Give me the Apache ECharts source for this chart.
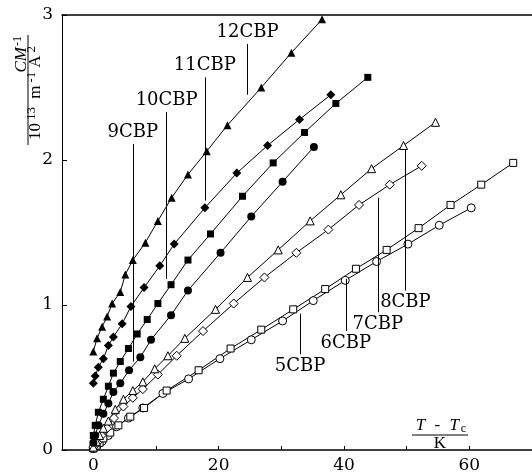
<!DOCTYPE html>
<html>
<head>
<meta charset="utf-8">
<script src="https://cdn.jsdelivr.net/npm/echarts@6/dist/echarts.min.js"></script>
<style>html,body{margin:0;padding:0;background:#fff}#c{width:532px;height:474px}</style>
</head>
<body>
<div id="c"></div>
<script>
// ---- data: [T - Tc (K), C/M^-1 (10^13 m^-1 A^2)] ----
const s5CBP = [[0,0.01],[0.6,0.03],[1.4,0.06],[2.4,0.10],[3.7,0.16],[5.6,0.22],[7.9,0.29],[11.1,0.39],[15.2,0.49],[20.2,0.63],[25.2,0.76],[30.2,0.89],[35.1,1.03],[40.2,1.17],[45.2,1.30],[50.2,1.42],[55.2,1.55],[60.3,1.67]];
const s6CBP = [[0,0.01],[0.5,0.03],[1.0,0.05],[1.6,0.08],[2.7,0.12],[4.0,0.17],[5.9,0.23],[8.1,0.29],[11.7,0.41],[16.8,0.55],[21.9,0.70],[26.8,0.83],[31.9,0.97],[37.0,1.11],[41.9,1.25],[46.8,1.38],[51.9,1.53],[57.0,1.69],[61.9,1.83],[67.0,1.98]];
const s7CBP = [[0,0.02],[0.6,0.05],[1.3,0.10],[2.2,0.15],[3.3,0.22],[4.8,0.30],[6.3,0.36],[7.9,0.42],[10.3,0.52],[13.3,0.65],[17.5,0.82],[22.4,1.01],[27.3,1.19],[32.4,1.36],[37.5,1.52],[42.4,1.69],[47.3,1.83],[52.4,1.96]];
const s8CBP = [[0,0.02],[0.5,0.06],[1.0,0.10],[1.6,0.15],[2.4,0.20],[3.5,0.28],[4.8,0.35],[6.3,0.41],[7.9,0.47],[9.8,0.56],[11.9,0.65],[14.6,0.77],[19.5,0.97],[24.6,1.19],[29.5,1.38],[34.6,1.58],[39.5,1.76],[44.4,1.94],[49.5,2.10],[54.6,2.26]];
const s9CBP = [[0,0.05],[0.3,0.10],[0.8,0.17],[1.6,0.25],[2.4,0.32],[3.2,0.40],[4.3,0.46],[5.7,0.55],[7.5,0.64],[9.2,0.76],[12.4,0.93],[15.1,1.10],[20.3,1.36],[25.2,1.61],[30.2,1.85],[35.2,2.09]];
const s10CBP = [[0,0.10],[0.3,0.17],[0.8,0.26],[1.6,0.35],[2.4,0.44],[3.2,0.53],[4.3,0.61],[5.6,0.70],[7.0,0.80],[8.6,0.90],[10.3,1.01],[12.4,1.14],[15.1,1.31],[18.7,1.49],[23.8,1.75],[28.7,1.98],[33.7,2.19],[38.7,2.39],[43.8,2.57]];
const s11CBP = [[0,0.46],[0.3,0.51],[0.8,0.57],[1.6,0.63],[2.4,0.72],[3.2,0.78],[4.6,0.87],[6.0,0.99],[8.1,1.12],[10.6,1.27],[12.9,1.42],[17.8,1.67],[22.9,1.91],[27.8,2.10],[32.9,2.28],[37.9,2.45]];
const s12CBP = [[0,0.68],[0.6,0.77],[1.4,0.85],[2.2,0.92],[3.0,1.01],[4.3,1.09],[5.1,1.21],[6.3,1.31],[8.3,1.43],[10.3,1.58],[12.5,1.74],[15.1,1.90],[18.1,2.06],[21.4,2.24],[26.8,2.50],[31.6,2.74],[36.5,2.97]];

// label leader lines: [x, yStart(label end), yEnd]
const lead5CBP = [33.0, 0.66, 0.94];
const lead6CBP = [40.3, 0.82, 1.18];
const lead7CBP = [45.4, 0.95, 1.74];
const lead8CBP = [49.8, 1.10, 2.07];
const lead9CBP = [6.3, 2.11, 0.61];
const lead10CBP = [11.7, 2.33, 1.18];
const lead11CBP = [17.8, 2.57, 1.72];
const lead12CBP = [24.6, 2.80, 2.45];

const xTickValues = [0, 10, 20, 30, 40, 50, 60];
const xLabelValues = [0, 20, 40, 60];

const FONT = 'DejaVu Serif';

function mk(name, data, symbol, size, filled, lead) {
  return {
    name: name, type: 'line', data: data,
    symbol: symbol, symbolSize: size, showSymbol: true,
    lineStyle: {color: '#000', width: 1},
    itemStyle: filled ? {color: '#000', borderColor: '#000', borderWidth: 0}
                      : {color: '#fff', borderColor: '#000', borderWidth: 1},
    emphasis: {disabled: true},
    markLine: {
      silent: true, symbol: ['none', 'none'], animation: false,
      lineStyle: {color: '#000', width: 1, type: 'solid'},
      label: {show: true, position: 'start', distance: 3, formatter: '{b}',
              color: '#000', fontFamily: FONT, fontSize: 18},
      data: [[{coord: [lead[0], lead[1]], name: name}, {coord: [lead[0], lead[2]]}]]
    }
  };
}

const chart = echarts.init(document.getElementById('c'), null, {renderer: 'canvas'});
chart.setOption({
  animation: false,
  backgroundColor: '#fff',
  grid: {left: 62, right: 0, top: 15, bottom: 19, show: false},
  xAxis: [{
    type: 'value', min: -5, max: 70,
    axisLine: {show: true, onZero: false, lineStyle: {color: '#000', width: 1.5}},
    axisTick: {show: true, inside: true, length: 4, customValues: xTickValues, lineStyle: {color: '#000'}},
    axisLabel: {show: true, customValues: xLabelValues, margin: 7, color: '#000', fontFamily: FONT, fontSize: 17},
    splitLine: {show: false}
  }, {
    type: 'value', position: 'top', min: -5, max: 70,
    axisLine: {show: true, onZero: false, lineStyle: {color: '#000', width: 1.5}},
    axisTick: {show: false}, axisLabel: {show: false}, splitLine: {show: false}
  }],
  yAxis: {
    type: 'value', min: 0, max: 3, interval: 1,
    axisLine: {show: true, onZero: false, lineStyle: {color: '#000', width: 1}},
    axisTick: {show: true, inside: true, length: 5, lineStyle: {color: '#000'}},
    axisLabel: {margin: 9, color: '#000', fontFamily: FONT, fontSize: 17},
    splitLine: {show: false}
  },
  series: [
    mk('5CBP', s5CBP, 'circle', 8, false, lead5CBP),
    mk('6CBP', s6CBP, 'rect', 7, false, lead6CBP),
    mk('7CBP', s7CBP, 'diamond', 9, false, lead7CBP),
    mk('8CBP', s8CBP, 'triangle', 8, false, lead8CBP),
    mk('9CBP', s9CBP, 'circle', 8, true, lead9CBP),
    mk('10CBP', s10CBP, 'rect', 7, true, lead10CBP),
    mk('11CBP', s11CBP, 'diamond', 9, true, lead11CBP),
    mk('12CBP', s12CBP, 'triangle', 8, true, lead12CBP)
  ],
  graphic: [
    {
      type: 'group', x: 28, y: 90, rotation: Math.PI / 2,
      children: [
        {type: 'line', shape: {x1: -55, y1: 0, x2: 55, y2: 0}, style: {stroke: '#000', lineWidth: 1}},
        {type: 'text', x: 54, y: -6, style: {
          text: '{i|CM}{s|-1}', align: 'right', verticalAlign: 'middle',
          rich: {i: {fontFamily: 'Liberation Serif', fontStyle: 'italic', fontSize: 17, fill: '#000'},
                 s: {fontFamily: 'Liberation Serif', fontSize: 12, fill: '#000', verticalAlign: 'top', padding: [0, 0, 8, 1]}}
        }},
        {type: 'text', x: -3, y: 8, style: {
          text: '{n|10}{s|13}{n| m}{s|-1}{n|A}{s|2}', align: 'center', verticalAlign: 'middle',
          rich: {n: {fontFamily: 'Liberation Serif', fontSize: 17, fill: '#000', padding: [0, 2, 0, 2]},
                 s: {fontFamily: 'Liberation Serif', fontSize: 13, fill: '#000', verticalAlign: 'top', padding: [0, 2, 9, 1]}}
        }}
      ]
    },
    {
      type: 'group', x: 440, y: 435,
      children: [
        {type: 'line', shape: {x1: -28, y1: 0, x2: 28, y2: 0}, style: {stroke: '#000', lineWidth: 1}},
        {type: 'text', x: 0, y: -9, style: {
          text: '{i|T}{n| - }{i|T}{c|c}', align: 'center', verticalAlign: 'middle',
          rich: {i: {fontFamily: 'Liberation Serif', fontStyle: 'italic', fontSize: 17, fill: '#000', padding: [0, 2, 0, 2]},
                 n: {fontFamily: 'Liberation Serif', fontSize: 17, fill: '#000', padding: [0, 3, 0, 3]},
                 c: {fontFamily: 'Liberation Serif', fontSize: 12, fill: '#000', verticalAlign: 'bottom', padding: [4, 0, 0, 0]}}
        }},
        {type: 'text', x: 0, y: 9, style: {
          text: 'K', align: 'center', verticalAlign: 'middle',
          fontFamily: 'Liberation Serif', fontSize: 17, fill: '#000'
        }}
      ]
    }
  ]
});
</script>
</body>
</html>
